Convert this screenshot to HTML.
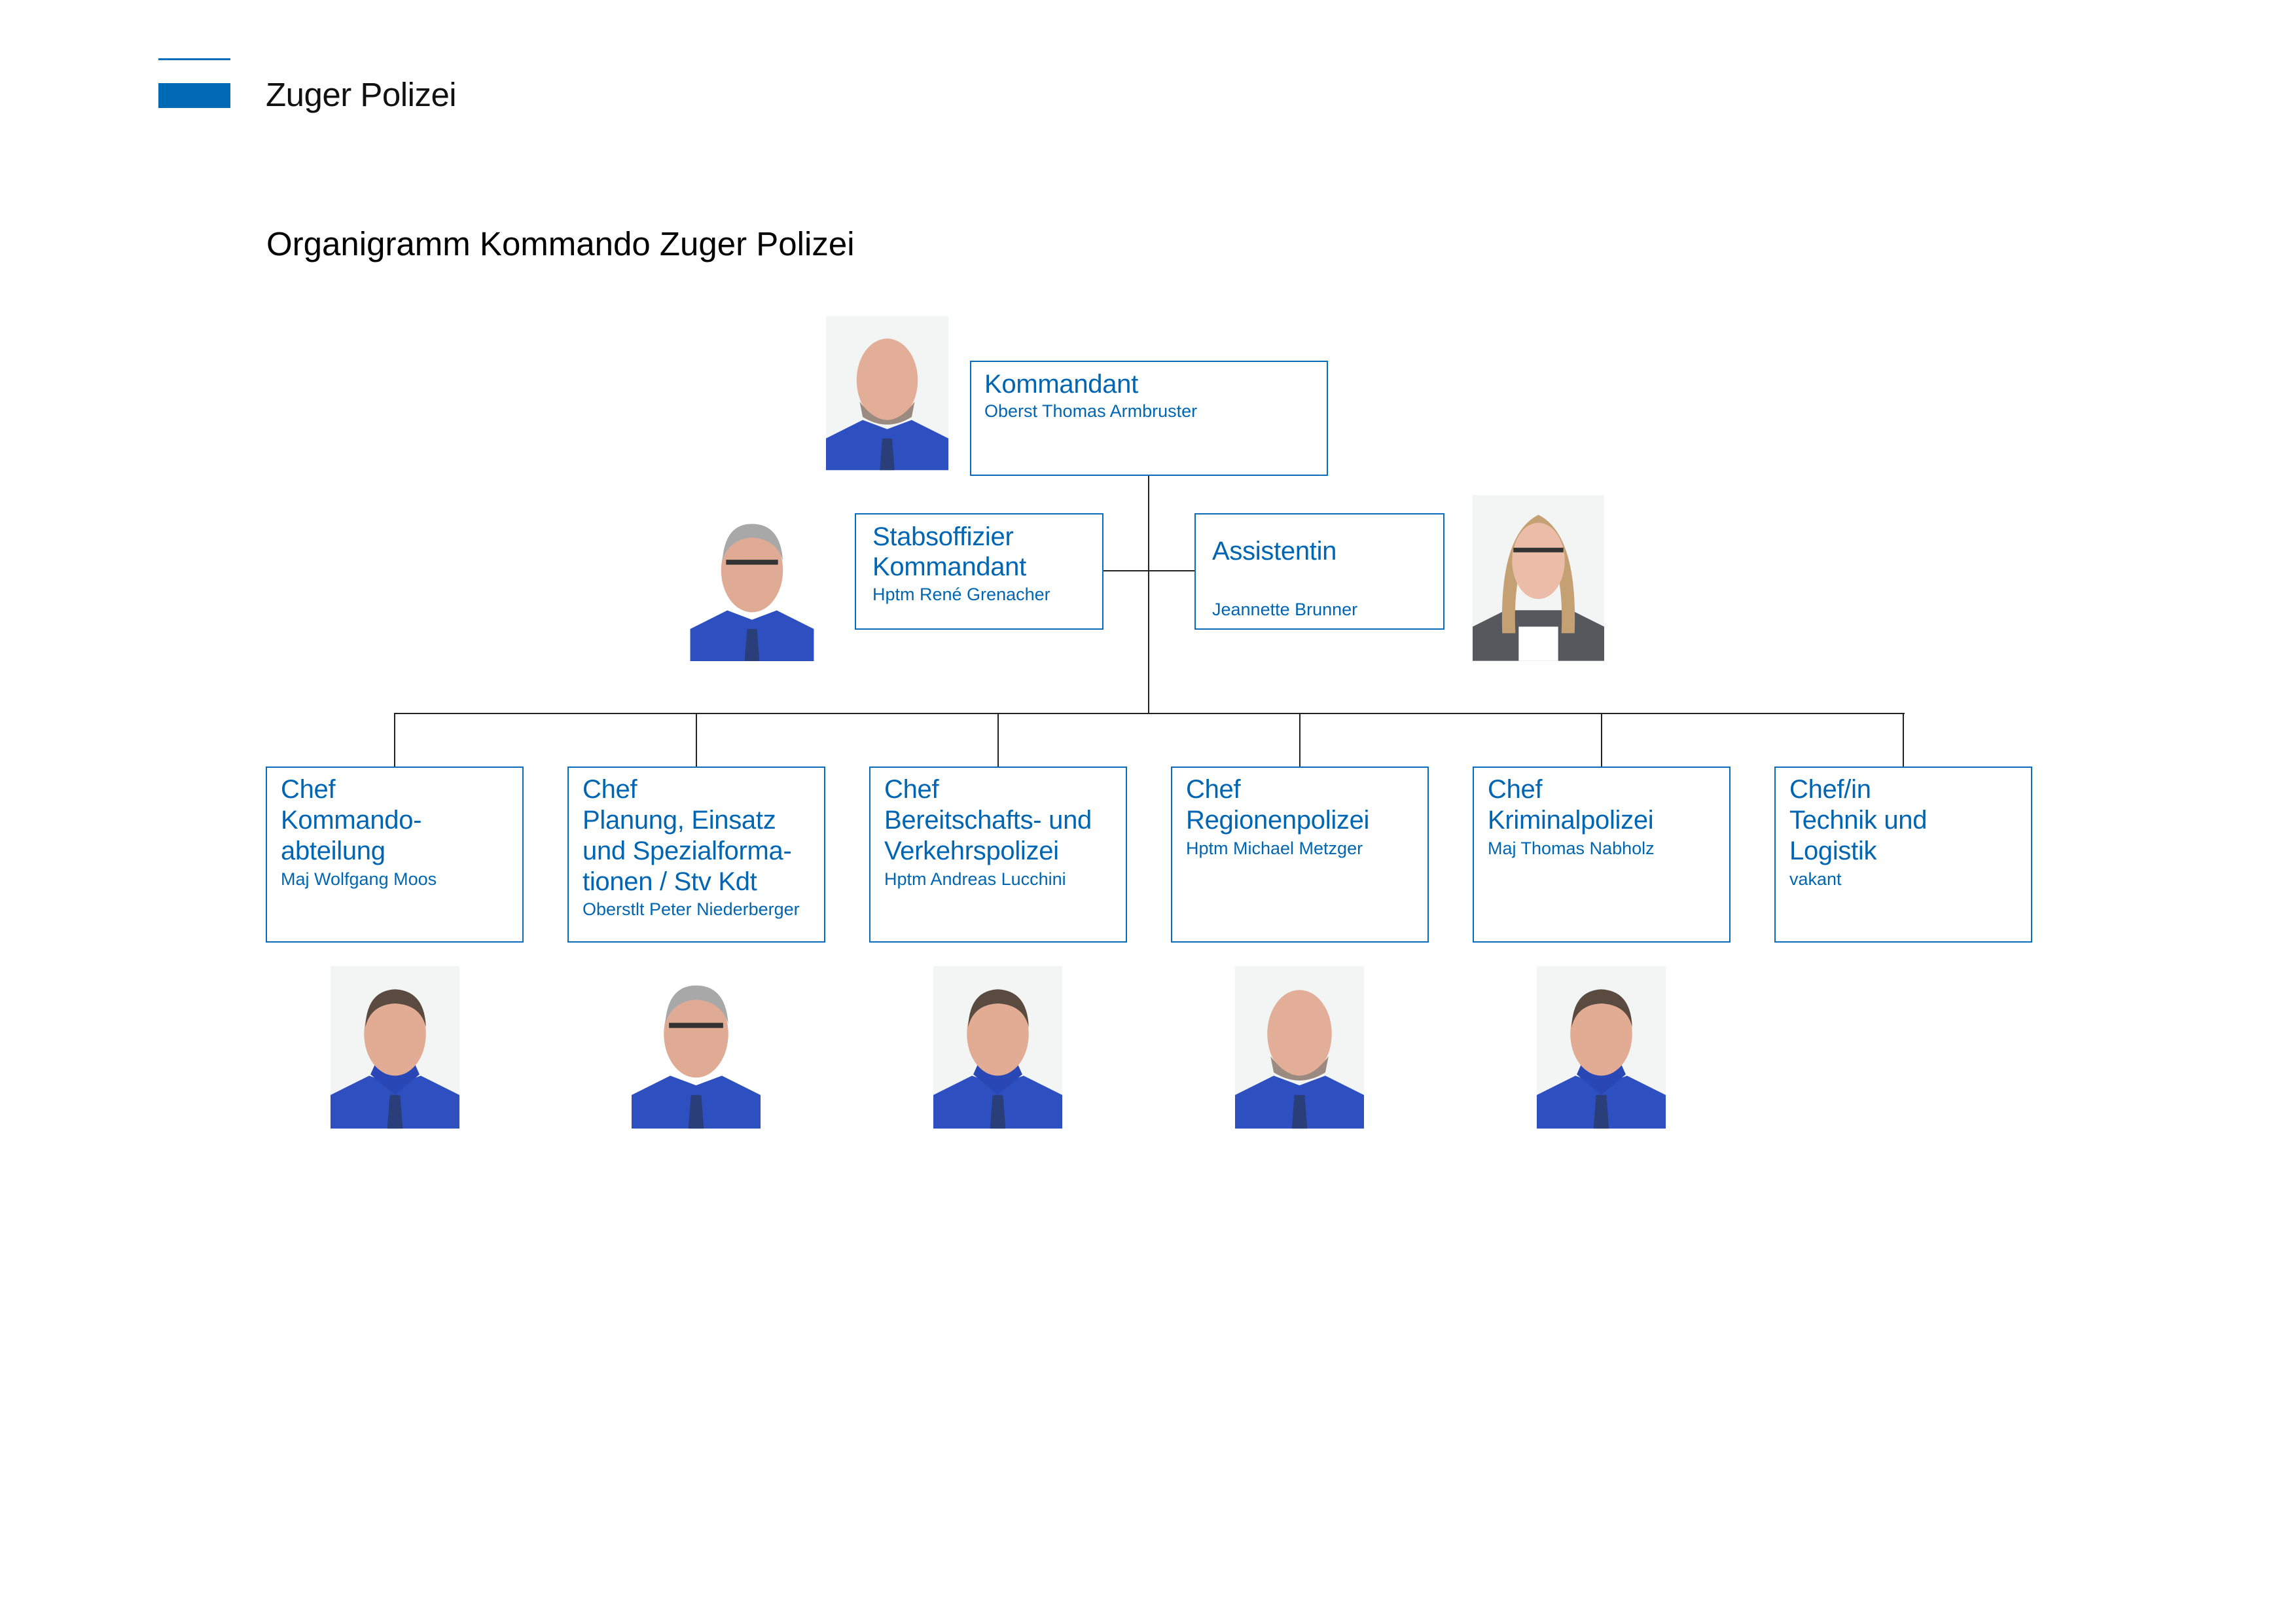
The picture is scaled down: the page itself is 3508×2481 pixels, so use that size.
<!DOCTYPE html>
<html><head><meta charset="utf-8">
<style>
html,body{margin:0;padding:0;background:#fff;}
body{width:3508px;height:2481px;position:relative;overflow:hidden;font-family:"Liberation Sans",sans-serif;}
.a{position:absolute;}
.box{position:absolute;border:2.5px solid #0a6dbb;box-sizing:border-box;background:#fff;}
.t{position:absolute;white-space:nowrap;color:#0066b3;line-height:1;}
.h{font-size:40px;letter-spacing:-0.3px;}
.s{font-size:27px;letter-spacing:0px;}
.ln{position:absolute;background:#222;}
svg.p{position:absolute;}
</style></head><body>
<svg width="0" height="0" style="position:absolute">
<defs>
<symbol id="man" viewBox="0 0 200 252">
<rect width="200" height="252" fill="#f3f4f4"/>
<path d="M0 200 L60 170 L100 185 L140 170 L200 200 L200 252 L0 252Z" fill="#2d4fc0"/>
<path d="M62 168 L100 200 L138 168 L130 150 L70 150Z" fill="#2a48b5"/>
<path d="M92 200 L108 200 L112 252 L88 252Z" fill="#2a3f7a"/>
<ellipse cx="100" cy="105" rx="48" ry="65" fill="#e2ab94"/>
<path d="M54 95 Q56 38 100 36 Q146 38 148 95 Q140 60 100 58 Q62 60 54 95Z" fill="#5a4a40"/>
</symbol>
<symbol id="bald" viewBox="0 0 200 252">
<rect width="200" height="252" fill="#f3f4f4"/>
<path d="M0 200 L60 170 L100 185 L140 170 L200 200 L200 252 L0 252Z" fill="#2d4fc0"/>
<path d="M92 200 L108 200 L112 252 L88 252Z" fill="#2a3f7a"/>
<ellipse cx="100" cy="105" rx="50" ry="68" fill="#e3ae98"/>
<path d="M55 140 Q100 200 145 140 L140 165 Q100 190 60 165Z" fill="#9b8a80"/>
</symbol>
<symbol id="grey" viewBox="0 0 200 252">
<rect width="200" height="252" fill="#fff"/>
<path d="M0 200 L60 170 L100 185 L140 170 L200 200 L200 252 L0 252Z" fill="#2d4fc0"/>
<path d="M92 200 L108 200 L112 252 L88 252Z" fill="#2a3f7a"/>
<ellipse cx="100" cy="105" rx="50" ry="68" fill="#e0ab95"/>
<path d="M52 90 Q56 30 100 30 Q146 30 150 90 Q140 55 100 52 Q62 55 52 90Z" fill="#a8a8a8"/>
<rect x="58" y="88" width="84" height="8" fill="#333"/>
</symbol>
<symbol id="woman" viewBox="0 0 200 252">
<rect width="200" height="252" fill="#f3f4f4"/>
<path d="M0 200 L50 175 L150 175 L200 200 L200 252 L0 252Z" fill="#55585c"/>
<path d="M70 200 L130 200 L130 252 L70 252Z" fill="#fff"/>
<path d="M45 210 Q40 60 100 30 Q160 60 155 210 L135 210 Q140 100 100 60 Q60 100 65 210Z" fill="#c4a072"/>
<ellipse cx="100" cy="100" rx="40" ry="58" fill="#ebbca8"/>
<rect x="62" y="80" width="76" height="7" fill="#333"/>
</symbol>
</defs></svg>

<!-- header -->
<div class="a" style="left:242px;top:89px;width:110px;height:3px;background:#0a6dbb"></div>
<div class="a" style="left:242px;top:127px;width:110px;height:38px;background:#0069b4"></div>
<div class="t" style="left:406px;top:119px;font-size:51px;color:#111;letter-spacing:-0.5px">Zuger Polizei</div>
<div class="t" style="left:407px;top:347px;font-size:51px;color:#000;letter-spacing:0px">Organigramm Kommando Zuger Polizei</div>

<!-- connectors -->
<div class="ln" style="left:1754px;top:726px;width:2px;height:365px"></div>
<div class="ln" style="left:1685px;top:871px;width:140px;height:2px"></div>
<div class="ln" style="left:602px;top:1089px;width:2308px;height:2px"></div>
<div class="ln" style="left:602px;top:1089px;width:2px;height:83px"></div>
<div class="ln" style="left:1063px;top:1089px;width:2px;height:83px"></div>
<div class="ln" style="left:1524px;top:1089px;width:2px;height:83px"></div>
<div class="ln" style="left:1985px;top:1089px;width:2px;height:83px"></div>
<div class="ln" style="left:2446px;top:1089px;width:2px;height:83px"></div>
<div class="ln" style="left:2907px;top:1089px;width:2px;height:83px"></div>

<!-- top boxes -->
<div class="box" style="left:1482px;top:551px;width:547px;height:176px"></div>
<div class="t h" style="left:1504px;top:567px">Kommandant</div>
<div class="t s" style="left:1504px;top:615px">Oberst Thomas Armbruster</div>

<div class="box" style="left:1306px;top:784px;width:380px;height:178px"></div>
<div class="t h" style="left:1333px;top:800px">Stabsoffizier</div>
<div class="t h" style="left:1333px;top:846px">Kommandant</div>
<div class="t s" style="left:1333px;top:895px">Hptm René Grenacher</div>

<div class="box" style="left:1825px;top:784px;width:382px;height:178px"></div>
<div class="t h" style="left:1852px;top:822px">Assistentin</div>
<div class="t s" style="left:1852px;top:918px">Jeannette Brunner</div>

<!-- photos top -->
<svg class="p" style="left:1262px;top:475px" width="187" height="251"><use href="#bald"/></svg>
<svg class="p" style="left:1053px;top:772px" width="192" height="238"><use href="#grey"/></svg>
<svg class="p" style="left:2250px;top:755px" width="201" height="256"><use href="#woman"/></svg>

<!-- bottom boxes -->
<div class="box" style="left:406px;top:1171px;width:394px;height:269px"></div>
<div class="t h" style="left:429px;top:1186px">Chef</div>
<div class="t h" style="left:429px;top:1233px">Kommando-</div>
<div class="t h" style="left:429px;top:1280px">abteilung</div>
<div class="t s" style="left:429px;top:1330px">Maj Wolfgang Moos</div>

<div class="box" style="left:867px;top:1171px;width:394px;height:269px"></div>
<div class="t h" style="left:890px;top:1186px">Chef</div>
<div class="t h" style="left:890px;top:1233px">Planung, Einsatz</div>
<div class="t h" style="left:890px;top:1280px">und Spezialforma-</div>
<div class="t h" style="left:890px;top:1327px">tionen / Stv Kdt</div>
<div class="t s" style="left:890px;top:1376px">Oberstlt Peter Niederberger</div>

<div class="box" style="left:1328px;top:1171px;width:394px;height:269px"></div>
<div class="t h" style="left:1351px;top:1186px">Chef</div>
<div class="t h" style="left:1351px;top:1233px">Bereitschafts- und</div>
<div class="t h" style="left:1351px;top:1280px">Verkehrspolizei</div>
<div class="t s" style="left:1351px;top:1330px">Hptm Andreas Lucchini</div>

<div class="box" style="left:1789px;top:1171px;width:394px;height:269px"></div>
<div class="t h" style="left:1812px;top:1186px">Chef</div>
<div class="t h" style="left:1812px;top:1233px">Regionenpolizei</div>
<div class="t s" style="left:1812px;top:1283px">Hptm Michael Metzger</div>

<div class="box" style="left:2250px;top:1171px;width:394px;height:269px"></div>
<div class="t h" style="left:2273px;top:1186px">Chef</div>
<div class="t h" style="left:2273px;top:1233px">Kriminalpolizei</div>
<div class="t s" style="left:2273px;top:1283px">Maj Thomas Nabholz</div>

<div class="box" style="left:2711px;top:1171px;width:394px;height:269px"></div>
<div class="t h" style="left:2734px;top:1186px">Chef/in</div>
<div class="t h" style="left:2734px;top:1233px">Technik und</div>
<div class="t h" style="left:2734px;top:1280px">Logistik</div>
<div class="t s" style="left:2734px;top:1330px">vakant</div>

<!-- bottom photos -->
<svg class="p" style="left:505px;top:1474px" width="197" height="252"><use href="#man"/></svg>
<svg class="p" style="left:965px;top:1474px" width="197" height="252"><use href="#grey"/></svg>
<svg class="p" style="left:1426px;top:1474px" width="197" height="252"><use href="#man"/></svg>
<svg class="p" style="left:1887px;top:1474px" width="197" height="252"><use href="#bald"/></svg>
<svg class="p" style="left:2348px;top:1474px" width="197" height="252"><use href="#man"/></svg>
</body></html>
